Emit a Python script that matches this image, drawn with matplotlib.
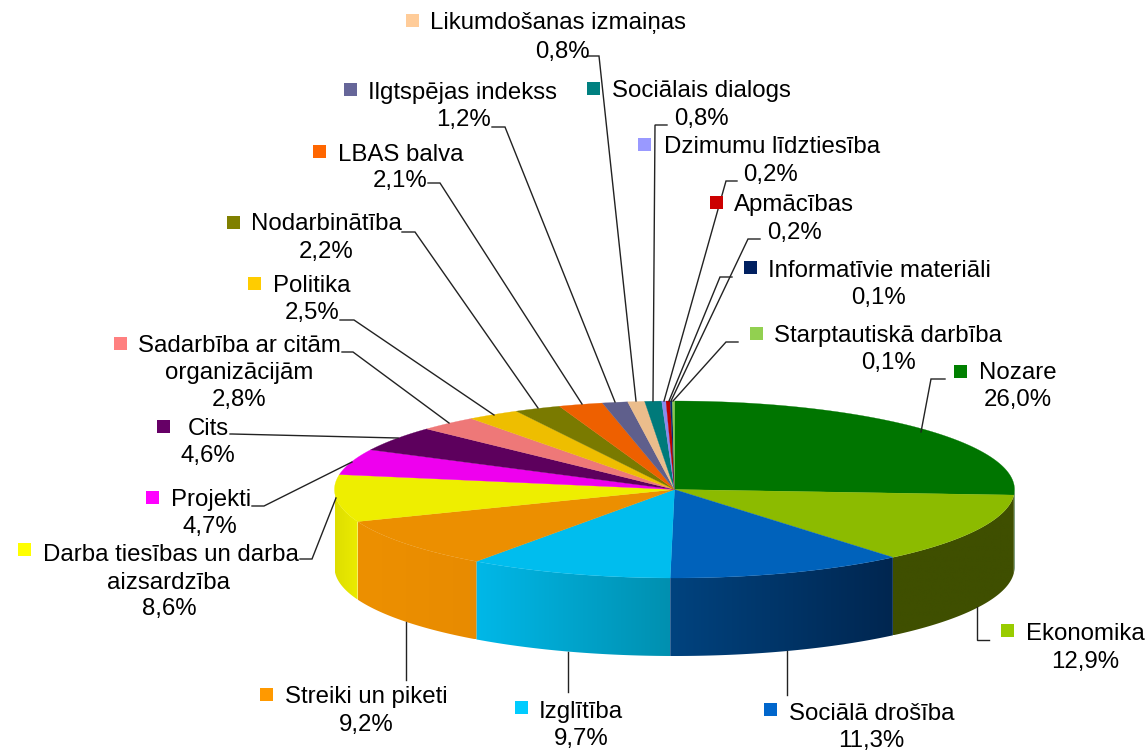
import numpy as np
import matplotlib
matplotlib.use("Agg")
import matplotlib.pyplot as plt
from matplotlib.colors import to_rgb
from matplotlib.patches import Polygon

categories = ["Nozare", "Ekonomika", "Sociālā drošība", "Izglītība", "Streiki un piketi",
              "Darba tiesības un darba aizsardzība", "Projekti", "Cits",
              "Sadarbība ar citām organizācijām", "Politika", "Nodarbinātība", "LBAS balva",
              "Ilgtspējas indekss", "Likumdošanas izmaiņas", "Sociālais dialogs",
              "Dzimumu līdztiesība", "Apmācības", "Informatīvie materiāli", "Starptautiskā darbība"]
values = [26.0, 12.9, 11.3, 9.7, 9.2, 8.6, 4.7, 4.6, 2.8, 2.5, 2.2, 2.1, 1.2, 0.8, 0.8, 0.2, 0.2, 0.1, 0.1]
value_labels = ["26,0%", "12,9%", "11,3%", "9,7%", "9,2%", "8,6%", "4,7%", "4,6%", "2,8%", "2,5%",
                "2,2%", "2,1%", "1,2%", "0,8%", "0,8%", "0,2%", "0,2%", "0,1%", "0,1%"]

top_colors = ["#007500", "#8cbb00", "#0062bb", "#00bdee", "#ec8f00", "#eeee00", "#ee00ee", "#5d005d",
              "#ee7878", "#eebe00", "#7a7a00", "#ee6000", "#5f5f8c", "#ebbd8c", "#007a7a", "#8a8aee",
              "#bb0000", "#002a70", "#88c848"]
swatch_colors = ["#008000", "#99cc00", "#0066cc", "#00ccff", "#ff9900", "#ffff00", "#ff00ff", "#660066",
                 "#ff8080", "#ffcc00", "#808000", "#ff6600", "#666699", "#ffcc99", "#008080", "#9999ff",
                 "#cc0000", "#002060", "#92d050"]
# side wall shading (colour at the clockwise start and end of each slice)
side_colors = {0: ("#003f00", "#003f00"), 1: ("#3f4f00", "#3f4f00"), 2: ("#002650", "#00437f"),
               3: ("#0090b0", "#00b8e8"), 4: ("#e88b00", "#ed9000"), 5: ("#ecec00", "#dede00")}

# layout, in figure pixels
W, H = 1148, 751
CX, CY, A, B, DEPTH = 674.5, 489.5, 340.0, 88.5, 78.0
FS = 17.3
SW = 13
# swatch left, swatch y, text left, text y
legend_pos = [(954, 371, 979, 373), (1001, 630, 1026, 634), (764, 709, 789, 714), (515, 707, 539, 712),
              (260, 694, 285, 697), (18, 549, 43, 555), (146, 497, 171, 500), (157, 426, 188, 429),
              (114, 343, 138, 346), (248, 283, 273, 286), (227, 222, 251, 224), (313, 151, 338, 155),
              (344, 89, 368, 93), (406, 20, 430, 23), (587, 88, 612, 91), (638, 144, 664, 147),
              (710, 202, 734, 205), (744, 267, 768, 271), (750, 333, 774, 336)]
value_pos = [(1018, 400), (1085, 662), (871, 741), (581, 739), (366, 725), (169, 609), (210, 527), (208, 456),
             (239, 400), (312, 313), (326, 252), (400, 181), (464, 120), (562, 52), (701, 119), (771, 175),
             (794, 233), (879, 298), (888, 363)]
extra_lines = {5: ("aizsardzība", 169, 583), 8: ("organizācijām", 239, 373)}
short_names = {5: "Darba tiesības un darba", 8: "Sadarbība ar citām"}
leaders = [[(921, 432), (931, 379), (945, 379)],
           [(977, 607), (977, 640), (989, 640)],
           [(787, 651), (787, 695)],
           [(568, 652), (568, 692)],
           [(406, 622), (406, 680)],
           [(336, 498), (312, 559), (300, 559)],
           [(352, 462), (264, 506), (252, 506)],
           [(398, 438), (232, 434), (230, 434)],
           [(449, 423), (353, 352), (342, 352)],
           [(494, 415), (354, 320), (340, 320)],
           [(538, 408), (415, 232), (402, 232)],
           [(582, 404), (440, 183), (428, 183)],
           [(615, 402), (505, 127), (492, 127)],
           [(636, 401), (599, 56), (587, 56)],
           [(653, 401), (655, 125), (667, 125)],
           [(664, 401), (726, 181), (737, 181)],
           [(669, 401), (720, 277), (732, 277)],
           [(671, 401), (748, 239), (760, 239)],
           [(673, 401), (726, 342), (738, 342)]]

plt.rcParams["font.family"] = ["Liberation Sans", "DejaVu Sans"]
fig = plt.figure(figsize=(W / 100, H / 100), dpi=100)
ax = fig.add_axes([0, 0, 1, 1])
ax.axis("off")


def ellipse(theta):
    return CX + A * np.sin(theta), CY - B * np.cos(theta)


edges = np.radians(np.concatenate([[0], np.cumsum(values)]) / np.sum(values) * 360)

# side walls, lower half only: horizontal gradient clipped to the wall outline
for i, (c0, c1) in side_colors.items():
    lo, hi = max(edges[i], np.pi / 2), min(edges[i + 1], 3 * np.pi / 2)
    if hi <= lo:
        continue
    t = np.linspace(lo, hi, 120)
    x, y = ellipse(t)
    outline = np.r_[np.c_[x, y], np.c_[x[::-1], y[::-1] + DEPTH]]
    xa, xb = x[0], x[-1]
    ramp = np.linspace(0, 1, 256)[:, None]
    grad = ((1 - ramp) * np.array(to_rgb(c0)) + ramp * np.array(to_rgb(c1)))[None, :, :]
    poly = Polygon(outline, closed=True, transform=ax.transData, facecolor="none", edgecolor="none")
    ax.add_patch(poly)
    extent = (xa, xb, outline[:, 1].max(), outline[:, 1].min())
    if xa > xb:
        grad = grad[:, ::-1, :]
        extent = (xb, xa, outline[:, 1].max(), outline[:, 1].min())
    im = ax.imshow(grad, extent=extent, aspect="auto", zorder=2, interpolation="bilinear")
    im.set_clip_path(poly)

# top faces
for i, col in enumerate(top_colors):
    t = np.linspace(edges[i], edges[i + 1], max(3, int(np.degrees(edges[i + 1] - edges[i])) * 2))
    x, y = ellipse(t)
    ax.fill(np.r_[CX, x], np.r_[CY, y], facecolor=col, edgecolor=col, linewidth=0.2, zorder=3)

# leaders
for pts in leaders:
    px, py = zip(*pts)
    ax.plot(px, py, color="#222222", lw=1.0, zorder=4, solid_joinstyle="miter")

# labels
for i, name in enumerate(categories):
    sx, sy, tx, ty = legend_pos[i]
    ax.add_patch(plt.Rectangle((sx, sy - SW / 2), SW, SW, facecolor=swatch_colors[i], edgecolor="none", zorder=5))
    ax.text(tx, ty, short_names.get(i, name), fontsize=FS, color="black", ha="left", va="center", zorder=6)
    if i in extra_lines:
        s, ex, ey = extra_lines[i]
        ax.text(ex, ey, s, fontsize=FS, color="black", ha="center", va="center", zorder=6)
    vx, vy = value_pos[i]
    ax.text(vx, vy, value_labels[i], fontsize=FS, color="black", ha="center", va="center", zorder=6)

ax.set_xlim(0, W)
ax.set_ylim(H, 0)
fig.savefig("out.png", dpi=100, facecolor="white")
